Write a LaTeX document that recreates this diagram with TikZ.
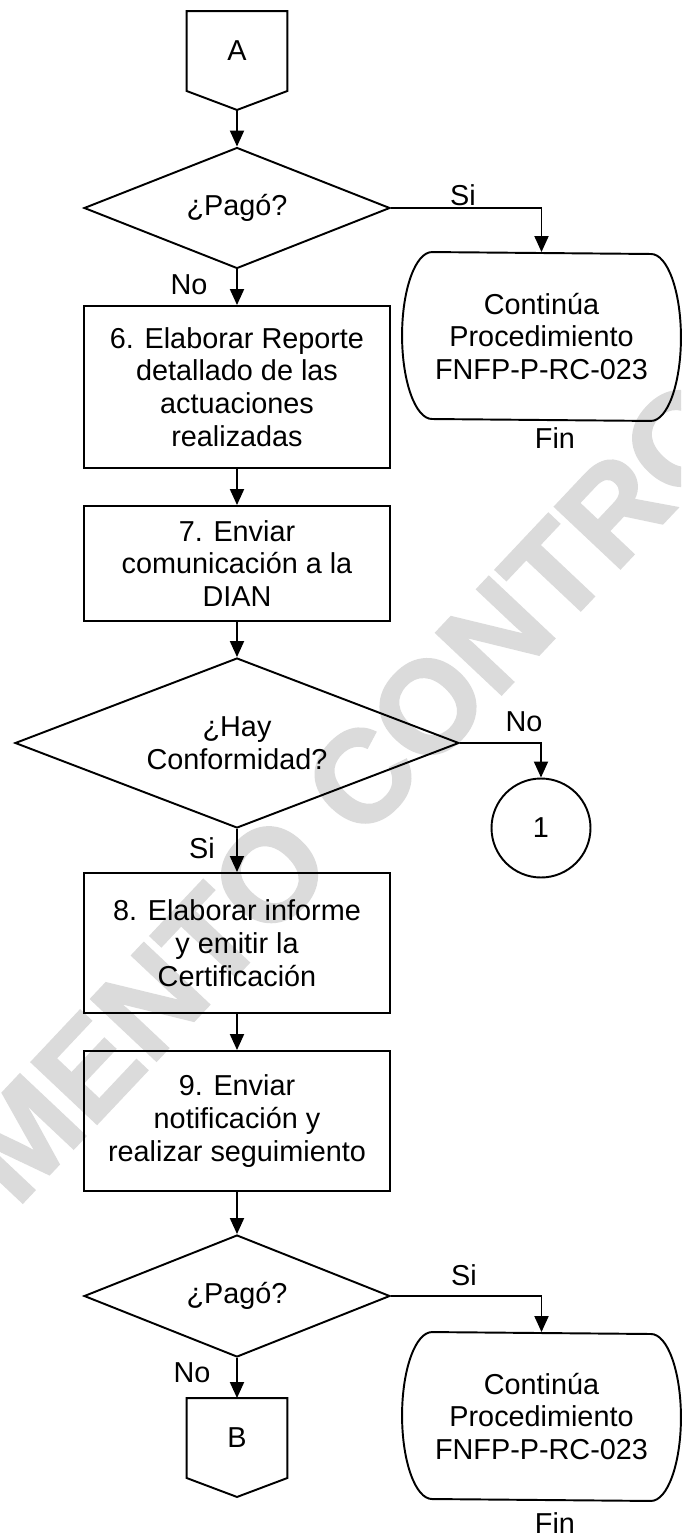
\documentclass[tikz,border=0pt]{standalone}
\usepackage{fontspec}
\setmainfont{Liberation Sans}
\newfontfamily\sellofont[FakeBold=2]{Liberation Sans}
\usetikzlibrary{arrows.meta,shapes.geometric}
\definecolor{sellogris}{gray}{0.86}
% off-page connector: box with a point at the bottom
\newcommand{\offpage}[1]{%
  \draw (#1.north west) -- (#1.north east) -- (#1.south east) -- ([yshift=-0.38cm]#1.south)
    -- (#1.south west) -- cycle;
  \coordinate (#1-tip) at ([yshift=-0.38cm]#1.south);}
% terminator: flat top and bottom, half ellipses at the sides
\newcommand{\terminal}[1]{%
  \draw (#1.north west) arc[start angle=90, end angle=270, x radius=0.6cm, y radius=1.67cm]
    -- (#1.south east) arc[start angle=-90, end angle=90, x radius=0.6cm, y radius=1.67cm] -- cycle;}

\begin{document}
\begin{tikzpicture}[x=0.02cm, y=-0.02cm, line width=1.1pt,
    font=\fontsize{16.4}{18.7}\selectfont,
    proceso/.style={draw, rectangle, minimum width=6.12cm, align=center, inner sep=0pt},
    decision/.style={draw, diamond, aspect=2.5, align=center, inner sep=0pt},
    fin/.style={rectangle, minimum width=4.34cm, minimum height=3.34cm, align=center, inner sep=0pt},
    enlace/.style={minimum width=1.98cm, minimum height=1.56cm, inner sep=0pt},
    flecha/.style={-{Triangle[length=0.32cm, width=0.28cm]}},
    sello/.style={font=\sellofont\bfseries\fontsize{74}{76}\selectfont, text=sellogris, rotate=46.7}]
	\useasboundingbox (0,0) rectangle (681,1537);
	% watermark
	\begin{scope}
		\clip (0,0) rectangle (681,1537);
		\node[sello] (marca) at (345,795) {DOCUMENTO CONTROLADO};
	\end{scope}

	\node[enlace] (A) at (237,51) {A};
	\offpage{A}
	\node[decision, minimum width=6.12cm, minimum height=2.42cm] (p1) at (237,208) {¿Pagó?};
	\node[fin] (t1) at (541.5,336.5) {Continúa\\Procedimiento\\FNFP-P-RC-023};
	\terminal{t1}
	\node (fin1) at (555,438) {Fin};
	\node[proceso, minimum height=3.24cm] (b6) at (237,387) {6. Elaborar Reporte\\detallado de las\\actuaciones\\realizadas};
	\node[proceso, minimum height=2.3cm] (b7) at (237,563.5) {7. Enviar\\comunicación a la\\DIAN};
	\node[decision, minimum width=8.88cm, minimum height=3.4cm] (q2) at (237,743) {¿Hay\\Conformidad?};
	\node[draw, circle, minimum size=1.98cm, inner sep=0pt] (c1) at (541,828) {1};
	\node[proceso, minimum height=2.8cm] (b8) at (237,943) {8. Elaborar informe\\y emitir la\\Certificación};
	\node[proceso, minimum height=2.8cm] (b9) at (237,1121) {9. Enviar\\notificación y\\realizar seguimiento};
	\node[decision, minimum width=6.12cm, minimum height=2.44cm] (p3) at (237,1296) {¿Pagó?};
	\node[fin] (t2) at (541.5,1416.5) {Continúa\\Procedimiento\\FNFP-P-RC-023};
	\terminal{t2}
	\node (fin2) at (555,1523) {Fin};
	\node[enlace] (B) at (237,1438) {B};
	\offpage{B}

	% labels
	\node (si1) at (463,195) {Si};
	\node (no1) at (189,285) {No};
	\node (no2) at (524,722) {No};
	\node (si2) at (202,848) {Si};
	\node (si3) at (464,1275) {Si};
	\node (no3) at (192,1373) {No};

	\draw[flecha] (A-tip) -- (p1);
	\draw[flecha] (p1.east) -| (t1.north);
	\draw[flecha] (p1) -- (b6);
	\draw[flecha] (b6) -- (b7);
	\draw[flecha] (b7) -- (q2);
	\draw[flecha] (q2.east) -| (c1.north);
	\draw[flecha] (q2) -- (b8);
	\draw[flecha] (b8) -- (b9);
	\draw[flecha] (b9) -- (p3);
	\draw[flecha] (p3.east) -| (t2.north);
	\draw[flecha] (p3) -- (B);
\end{tikzpicture}
\end{document}
